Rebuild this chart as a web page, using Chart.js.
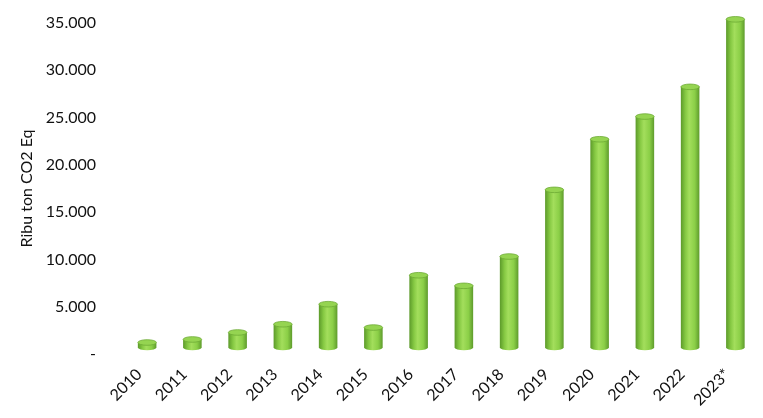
<!DOCTYPE html>
<html>
<head>
<meta charset="utf-8">
<script src="https://cdn.jsdelivr.net/npm/chart.js@4"></script>
<style>
  html, body { margin: 0; padding: 0; background: #fff; }
  #wrap { width: 763px; height: 418px; }
</style>
</head>
<body>
<div id="wrap"><canvas id="chart"></canvas></div>
<script>
// data (ribu ton CO2 Eq)
const years = ["2010", "2011", "2012", "2013", "2014", "2015", "2016", "2017", "2018", "2019", "2020", "2021", "2022", "2023*"];
const emissions = [530, 850, 1590, 2460, 4580, 2110, 7640, 6520, 9620, 16670, 22020, 24420, 27560, 34700];
const yTicks = [0, 5000, 10000, 15000, 20000, 25000, 30000, 35000];

const FONT = "Lato, 'Open Sans', sans-serif";

// draws each bar as a green cylinder using the bar element geometry
const cylinders = {
  id: "cylinders",
  afterDatasetsDraw(chart) {
    const ctx = chart.ctx;
    const meta = chart.getDatasetMeta(0);
    const shift = 6.5; // floor depth of the 3D look
    meta.data.forEach(bar => {
      const rx = bar.width / 2;
      const ry = 2.8;
      const x = bar.x;
      const yt = bar.y - shift;
      const yb = bar.base - shift;

      const grad = ctx.createLinearGradient(x - rx, 0, x + rx, 0);
      grad.addColorStop(0, "#5c9a2a");
      grad.addColorStop(0.25, "#86c943");
      grad.addColorStop(0.45, "#a3de5c");
      grad.addColorStop(0.75, "#8bcf47");
      grad.addColorStop(1, "#5e9b2c");

      ctx.save();
      ctx.beginPath();
      ctx.moveTo(x - rx, yt);
      ctx.lineTo(x - rx, yb);
      ctx.ellipse(x, yb, rx, ry, 0, Math.PI, 0, true);
      ctx.lineTo(x + rx, yt);
      ctx.closePath();
      ctx.fillStyle = grad;
      ctx.fill();

      ctx.beginPath();
      ctx.ellipse(x, yt, rx, ry, 0, 0, Math.PI * 2);
      ctx.fillStyle = "#95d451";
      ctx.fill();
      ctx.lineWidth = 0.8;
      ctx.strokeStyle = "#6dab35";
      ctx.stroke();
      ctx.restore();
    });
  }
};

const ctx = document.getElementById("chart").getContext("2d");
new Chart(ctx, {
  type: "bar",
  data: {
    labels: years,
    datasets: [{
      data: emissions,
      backgroundColor: "rgba(0,0,0,0)",
      borderWidth: 0,
      categoryPercentage: 1,
      barPercentage: 0.41
    }]
  },
  options: {
    responsive: true,
    maintainAspectRatio: false,
    animation: false,
    layout: { padding: { left: 17, right: 5, top: 23, bottom: 0 } },
    plugins: { legend: { display: false }, tooltip: { enabled: false } },
    scales: {
      x: {
        grid: { display: false, drawTicks: false },
        border: { display: false },
        afterFit: s => { s.paddingLeft = 0; s.paddingRight = 0; s.height = 64; },
        ticks: {
          color: "#111",
          font: { family: FONT, size: 16 },
          minRotation: 45,
          maxRotation: 45,
          labelOffset: -8,
          padding: 11
        }
      },
      y: {
        min: 0,
        max: 35000,
        afterBuildTicks: axis => { axis.ticks = yTicks.map(v => ({ value: v })); },
        afterFit: s => { s.width = 107.5; s.paddingTop = 0; s.paddingBottom = 0; },
        grid: { display: false, drawTicks: false },
        border: { display: false },
        title: {
          display: true,
          text: "Ribu ton CO2 Eq",
          color: "#111",
          font: { family: FONT, size: 16 },
          padding: { top: 0, bottom: 9 }
        },
        ticks: {
          color: "#111",
          font: { family: FONT, size: 16 },
          padding: 28.5,
          callback: v => v === 0 ? "-" : v.toLocaleString("de-DE")
        }
      }
    }
  },
  plugins: [cylinders]
});
</script>
</body>
</html>
